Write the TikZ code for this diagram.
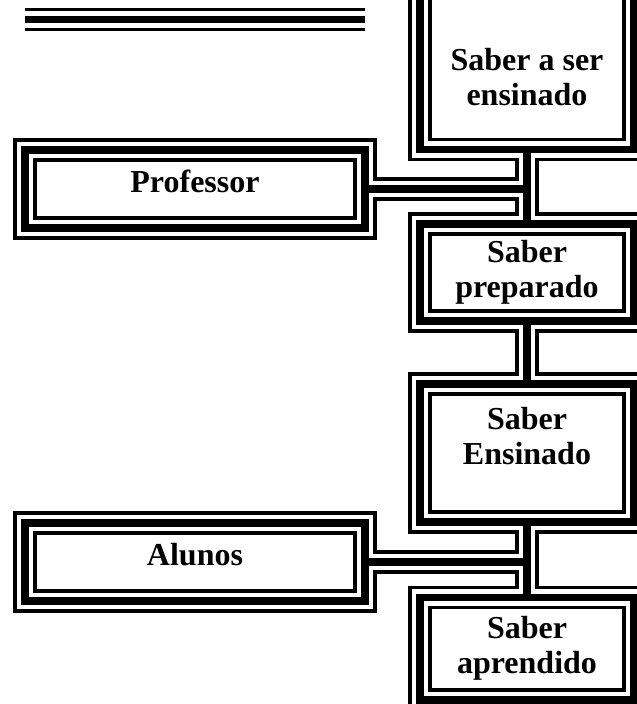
\documentclass[tikz,border=0pt]{standalone}
\usepackage{fontspec}
\setmainfont{Liberation Serif}
\definecolor{cellInk}{HTML}{000000}
\definecolor{cellPaper}{HTML}{FFFFFF}

% every triple border of the chart, drawn once per layer
\newcommand\borderNet[1]{%
  \draw[#1] (25,19.5) -- (365,19.5);
  \draw[#1] ([yshift=16pt]s1.north west) rectangle (s1.south east);
  \foreach \cellName in {prof,s2,s3,alunos,s4}
    \draw[#1] (\cellName.north west) rectangle (\cellName.south east);
  \draw[#1] (s1.south) -- (s2.north);
  \draw[#1] (s2.south) -- (s3.north);
  \draw[#1] (s3.south) -- (s4.north);
  \draw[#1] (prof.east) -- (prof.east -| s1.south);
  \draw[#1] (alunos.east) -- (alunos.east -| s3.south);
}

\begin{document}
\begin{tikzpicture}[x=1pt, y=-1pt,
    cellBox/.style={rectangle, inner sep=0pt, outer sep=0pt, align=center,
      minimum width=214pt, font=\bfseries\fontsize{32}{35}\selectfont},
    sideBox/.style={cellBox, minimum width=340pt, minimum height=78pt,
      text depth=15pt},
    outerInk/.style={cellInk, line width=23.5pt},
    gapInk/.style={cellPaper, line width=16.5pt},
    coreInk/.style={cellInk, line width=7.5pt}]
  \useasboundingbox (0,0) rectangle (637,704);
  \clip (0,0) rectangle (637,704);
  % Knowledge column
  \node[cellBox, minimum height=145.5pt] (s1) at (527,76.75) {Saber a ser\\ensinado};
  \node[cellBox, minimum height=97pt] (s2) at (527,272.5) {Saber\\preparado};
  \node[cellBox, minimum height=138pt] (s3) at (527,453) {Saber\\Ensinado\\\mbox{}};
  \node[cellBox, minimum height=102.5pt] (s4) at (527,648.75) {Saber\\aprendido};
  % Actors
  \node[sideBox] (prof) at (195,189) {Professor};
  \node[sideBox] (alunos) at (195,562) {Alunos};
  % Borders: wide ink, gap, core
  \borderNet{outerInk}
  \borderNet{gapInk}
  \borderNet{coreInk}
\end{tikzpicture}
\end{document}
